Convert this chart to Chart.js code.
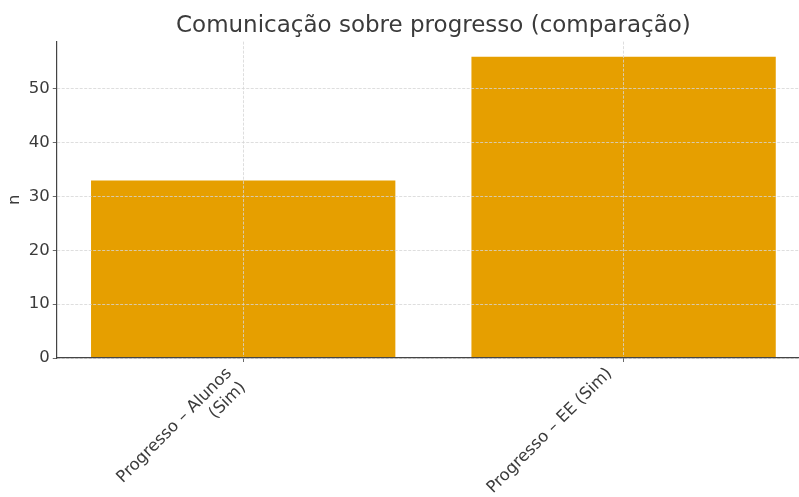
<!DOCTYPE html>
<html>
<head>
<meta charset="utf-8">
<script src="https://cdn.jsdelivr.net/npm/chart.js@4/dist/chart.umd.min.js"></script>
<style>
  html, body { margin: 0; padding: 0; background: #fff; overflow: hidden; }
  #wrap { width: 810px; height: 497px; }
</style>
</head>
<body>
<div id="wrap"><canvas id="myChart"></canvas></div>
<script>
var categorias = [["Progresso \u2013 Alunos", "(Sim)"], "Progresso \u2013 EE (Sim)"];
var valores = [33, 56];
var ticksY = [0, 10, 20, 30, 40, 50];

var corTexto = '#3b3b3b';
var fonte = 'DejaVu Sans';

// posicoes das categorias no eixo x (0, 1, ...)
var pontos = [];
for (var i = 0; i < valores.length; i++) {
    pontos[i] = { x: i, y: valores[i] };
}

var ctx = document.getElementById("myChart").getContext('2d');
var myChart = new Chart(ctx, {
    type: 'bar',
    data: {
        datasets: [{
            label: 'n',
            data: pontos,
            backgroundColor: '#E69F00',
            borderWidth: 0,
            barPercentage: 0.8,
            categoryPercentage: 1.0
        }]
    },
    options: {
        responsive: true,
        maintainAspectRatio: false,
        animation: false,
        layout: { padding: { top: 6, left: 2, right: 0, bottom: 0 } },
        plugins: {
            legend: { display: false },
            tooltip: { enabled: false },
            title: {
                display: true,
                fullSize: false,
                text: 'Comunica\u00e7\u00e3o sobre progresso (compara\u00e7\u00e3o)',
                color: corTexto,
                font: { family: fonte, size: 23, weight: 'normal' },
                padding: { top: 6, bottom: 2 }
            }
        },
        scales: {
            x: {
                type: 'linear',
                offset: false,
                min: -0.49,
                max: 1.49,
                afterBuildTicks: function (axis) {
                    axis.ticks = categorias.map(function (c, i) { return { value: i }; });
                },
                afterFit: function (axis) {
                    axis.height = 139;
                },
                grid: {
                    offset: false,
                    color: '#d6d6d6',
                    lineWidth: 0.8,
                    drawTicks: true,
                    tickLength: 4,
                    tickColor: '#444',
                    z: 1
                },
                border: { display: true, color: '#444', width: 1.2, dash: [3, 1.5], z: 2 },
                ticks: {
                    color: corTexto,
                    font: { family: fonte, size: 16.5 },
                    maxRotation: 45,
                    minRotation: 45,
                    autoSkip: false,
                    padding: 2,
                    labelOffset: -14,
                    callback: function (v) { return categorias[v]; }
                }
            },
            y: {
                min: 0,
                max: 58.8,
                afterBuildTicks: function (axis) {
                    axis.ticks = ticksY.map(function (v) { return { value: v }; });
                },
                grid: {
                    color: '#d6d6d6',
                    lineWidth: 0.8,
                    drawTicks: true,
                    tickLength: 4,
                    tickColor: '#444',
                    z: 1
                },
                border: { display: true, color: '#444', width: 1.2, dash: [3, 1.5], z: 2 },
                title: {
                    display: true,
                    text: 'n',
                    color: corTexto,
                    font: { family: fonte, size: 16.5 },
                    padding: { top: 3, bottom: 1 }
                },
                ticks: {
                    color: corTexto,
                    font: { family: fonte, size: 16.5 },
                    padding: 3
                }
            }
        }
    }
});
</script>
</body>
</html>
